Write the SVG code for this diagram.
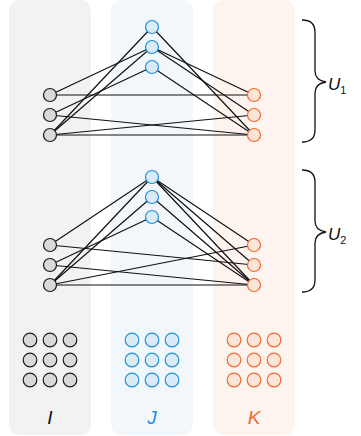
<svg xmlns="http://www.w3.org/2000/svg" width="361" height="436" viewBox="0 0 361 436">
<style>
.col{stroke:none}
.e{stroke:#111;stroke-width:1.2;fill:none}
.ni{fill:#d9d9d9;stroke:#1a1a1a;stroke-width:1.2}
.nj{fill:#daeaf6;stroke:#1b90d8;stroke-width:1.2}
.nk{fill:#fbe4d8;stroke:#f26a2e;stroke-width:1.2}
.br{stroke:#111;stroke-width:1.3;fill:none}
.lab{font-family:"Liberation Sans",Arial,sans-serif;font-style:italic}
</style>
<g id="columns">
<rect class="col" x="9" y="0" width="82" height="435" rx="11" fill="#f2f2f2"/>
<rect class="col" x="111" y="0" width="82" height="435" rx="11" fill="#f2f7fc"/>
<rect class="col" x="213" y="0" width="82" height="435" rx="11" fill="#fdf4f0"/>
</g>
<g id="connectors">
<!-- group 1 -->
<line class="e" x1="50" y1="95" x2="152" y2="47"/>
<line class="e" x1="50" y1="115" x2="152" y2="67"/>
<line class="e" x1="50" y1="135" x2="152" y2="27"/>
<line class="e" x1="50" y1="135" x2="152" y2="47"/>
<line class="e" x1="50" y1="95" x2="254" y2="95"/>
<line class="e" x1="50" y1="115" x2="254" y2="135"/>
<line class="e" x1="50" y1="135" x2="254" y2="115"/>
<line class="e" x1="50" y1="135" x2="254" y2="135"/>
<line class="e" x1="152" y1="27" x2="254" y2="135"/>
<line class="e" x1="152" y1="47" x2="254" y2="95"/>
<line class="e" x1="152" y1="47" x2="254" y2="115"/>
<line class="e" x1="152" y1="67" x2="254" y2="135"/>
<!-- group 2 -->
<line class="e" x1="50" y1="245" x2="152" y2="177"/>
<line class="e" x1="50" y1="265" x2="152" y2="217"/>
<line class="e" x1="50" y1="285" x2="152" y2="177"/>
<line class="e" x1="50" y1="285" x2="152" y2="197"/>
<line class="e" x1="50" y1="245" x2="254" y2="265"/>
<line class="e" x1="50" y1="265" x2="254" y2="285"/>
<line class="e" x1="50" y1="285" x2="254" y2="245"/>
<line class="e" x1="50" y1="285" x2="254" y2="285"/>
<line class="e" x1="152" y1="177" x2="254" y2="245"/>
<line class="e" x1="152" y1="177" x2="254" y2="265"/>
<line class="e" x1="152" y1="177" x2="254" y2="285"/>
<line class="e" x1="152" y1="197" x2="254" y2="285"/>
<line class="e" x1="152" y1="217" x2="254" y2="285"/>
</g>
<g id="I1-nodes">
<circle class="ni" cx="50" cy="95" r="6.5"/><circle class="ni" cx="50" cy="115" r="6.5"/><circle class="ni" cx="50" cy="135" r="6.5"/>
</g>
<g id="J1-nodes">
<circle class="nj" cx="152" cy="27" r="6.5"/><circle class="nj" cx="152" cy="47" r="6.5"/><circle class="nj" cx="152" cy="67" r="6.5"/>
</g>
<g id="K1-nodes">
<circle class="nk" cx="254" cy="95" r="6.5"/><circle class="nk" cx="254" cy="115" r="6.5"/><circle class="nk" cx="254" cy="135" r="6.5"/>
</g>
<g id="I2-nodes">
<circle class="ni" cx="50" cy="245" r="6.5"/><circle class="ni" cx="50" cy="265" r="6.5"/><circle class="ni" cx="50" cy="285" r="6.5"/>
</g>
<g id="J2-nodes">
<circle class="nj" cx="152" cy="177" r="6.5"/><circle class="nj" cx="152" cy="197" r="6.5"/><circle class="nj" cx="152" cy="217" r="6.5"/>
</g>
<g id="K2-nodes">
<circle class="nk" cx="254" cy="245" r="6.5"/><circle class="nk" cx="254" cy="265" r="6.5"/><circle class="nk" cx="254" cy="285" r="6.5"/>
</g>
<g id="I-grid">
<circle class="ni" cx="30" cy="340" r="6.8"/><circle class="ni" cx="50" cy="340" r="6.8"/><circle class="ni" cx="70" cy="340" r="6.8"/>
<circle class="ni" cx="30" cy="360" r="6.8"/><circle class="ni" cx="50" cy="360" r="6.8"/><circle class="ni" cx="70" cy="360" r="6.8"/>
<circle class="ni" cx="30" cy="380" r="6.8"/><circle class="ni" cx="50" cy="380" r="6.8"/><circle class="ni" cx="70" cy="380" r="6.8"/>
</g>
<g id="J-grid">
<circle class="nj" cx="132" cy="340" r="6.8"/><circle class="nj" cx="152" cy="340" r="6.8"/><circle class="nj" cx="172" cy="340" r="6.8"/>
<circle class="nj" cx="132" cy="360" r="6.8"/><circle class="nj" cx="152" cy="360" r="6.8"/><circle class="nj" cx="172" cy="360" r="6.8"/>
<circle class="nj" cx="132" cy="380" r="6.8"/><circle class="nj" cx="152" cy="380" r="6.8"/><circle class="nj" cx="172" cy="380" r="6.8"/>
</g>
<g id="K-grid">
<circle class="nk" cx="234" cy="340" r="6.8"/><circle class="nk" cx="254" cy="340" r="6.8"/><circle class="nk" cx="274" cy="340" r="6.8"/>
<circle class="nk" cx="234" cy="360" r="6.8"/><circle class="nk" cx="254" cy="360" r="6.8"/><circle class="nk" cx="274" cy="360" r="6.8"/>
<circle class="nk" cx="234" cy="380" r="6.8"/><circle class="nk" cx="254" cy="380" r="6.8"/><circle class="nk" cx="274" cy="380" r="6.8"/>
</g>
<g id="labels">
<text class="lab" x="50" y="424" font-size="19" text-anchor="middle" fill="#111">I</text>
<text class="lab" x="152" y="424" font-size="19" text-anchor="middle" fill="#1b90d8">J</text>
<text class="lab" x="254" y="424" font-size="19" text-anchor="middle" fill="#f26a2e">K</text>
</g>
<g id="U1">
<path class="br" d="M302,20 C310,20 315,24 315,32 L315,71 C315,78 319,81 326,82 C319,83 315,86 315,93 L315,130 C315,138 310,142 302,142"/>
<text class="lab" x="328" y="90" font-size="17" fill="#111">U<tspan font-size="11" font-style="normal" dy="4">1</tspan></text>
</g>
<g id="U2">
<path class="br" d="M302,170 C310,170 315,174 315,182 L315,221 C315,228 319,231 326,232 C319,233 315,236 315,243 L315,280 C315,288 310,292 302,292"/>
<text class="lab" x="328" y="240" font-size="17" fill="#111">U<tspan font-size="11" font-style="normal" dy="4">2</tspan></text>
</g>
</svg>
